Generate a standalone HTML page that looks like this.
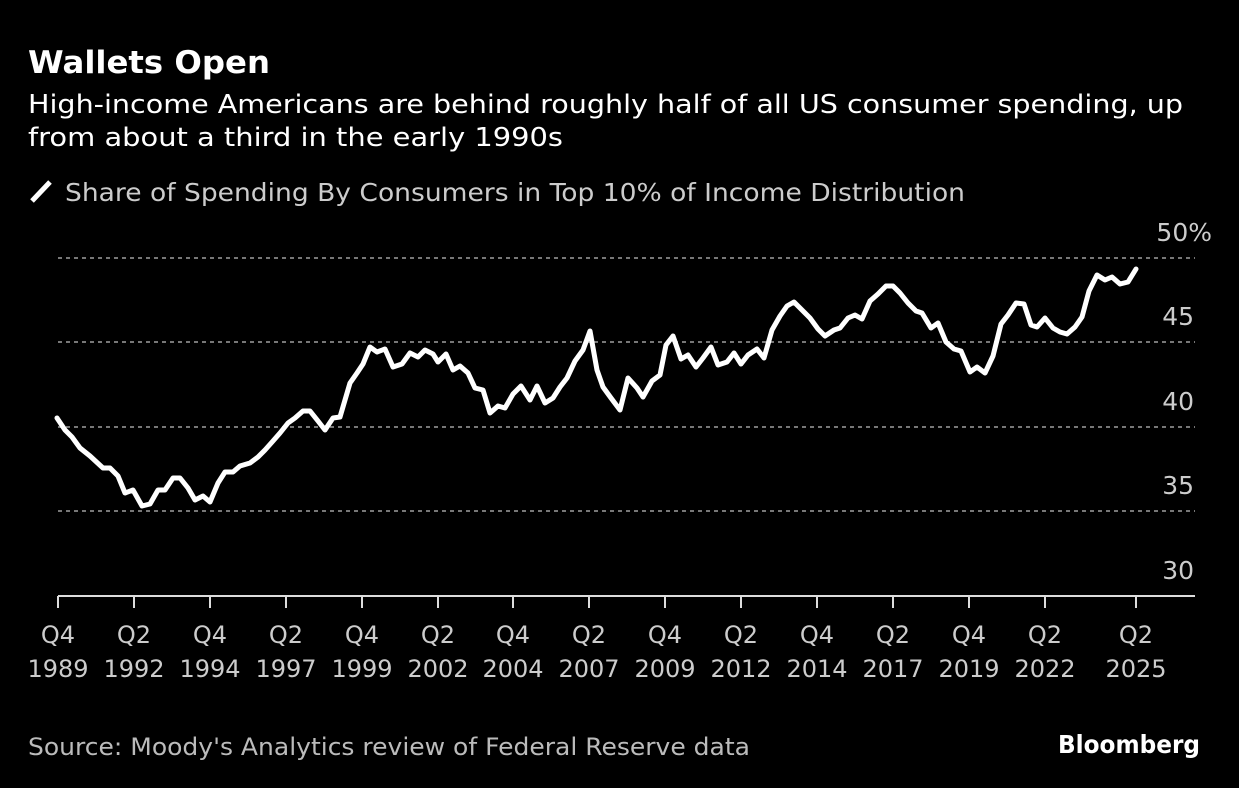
<!DOCTYPE html>
<html><head><meta charset="utf-8"><style>
html,body{margin:0;padding:0;background:#000;}
svg{display:block;font-family:"DejaVu Sans","Liberation Sans",sans-serif;}
</style></head><body>
<svg width="1239" height="788" viewBox="0 0 1239 788" xmlns="http://www.w3.org/2000/svg">
<rect width="1239" height="788" fill="#000"/>
<text x="28" y="73" font-size="31" font-weight="bold" fill="#fff" textLength="242" lengthAdjust="spacingAndGlyphs">Wallets Open</text>
<text x="28" y="113" font-size="26" fill="#fff" textLength="1155" lengthAdjust="spacingAndGlyphs">High-income Americans are behind roughly half of all US consumer spending, up</text>
<text x="28" y="146" font-size="26" fill="#fff" textLength="535" lengthAdjust="spacingAndGlyphs">from about a third in the early 1990s</text>
<line x1="32" y1="201" x2="50" y2="182" stroke="#fff" stroke-width="5"/>
<text x="65" y="201" font-size="25" fill="#ccc" textLength="900" lengthAdjust="spacingAndGlyphs">Share of Spending By Consumers in Top 10% of Income Distribution</text>
<g stroke="#777" stroke-width="2" stroke-dasharray="4,4">
<line x1="58" y1="258" x2="1195" y2="258"/>
<line x1="58" y1="342" x2="1195" y2="342"/>
<line x1="58" y1="427" x2="1195" y2="427"/>
<line x1="58" y1="511" x2="1195" y2="511"/>
</g>
<line x1="58" y1="596" x2="1195" y2="596" stroke="#ddd" stroke-width="2"/>
<g font-size="25" fill="#ccc" text-anchor="end">
<text x="1212" y="241">50%</text>
<text x="1194" y="325">45</text>
<text x="1194" y="410">40</text>
<text x="1194" y="494">35</text>
<text x="1194" y="579">30</text>
</g>
<g stroke="#ddd" stroke-width="2">
<line x1="58" y1="596" x2="58" y2="608"/><line x1="134" y1="596" x2="134" y2="608"/><line x1="210" y1="596" x2="210" y2="608"/><line x1="286" y1="596" x2="286" y2="608"/><line x1="362" y1="596" x2="362" y2="608"/><line x1="438" y1="596" x2="438" y2="608"/><line x1="513" y1="596" x2="513" y2="608"/><line x1="589" y1="596" x2="589" y2="608"/><line x1="665" y1="596" x2="665" y2="608"/><line x1="741" y1="596" x2="741" y2="608"/><line x1="817" y1="596" x2="817" y2="608"/><line x1="893" y1="596" x2="893" y2="608"/><line x1="969" y1="596" x2="969" y2="608"/><line x1="1045" y1="596" x2="1045" y2="608"/><line x1="1136" y1="596" x2="1136" y2="608"/>
</g>
<g font-size="24" fill="#ccc" text-anchor="middle">
<text x="58" y="643">Q4</text><text x="58" y="677">1989</text>
<text x="134" y="643">Q2</text><text x="134" y="677">1992</text>
<text x="210" y="643">Q4</text><text x="210" y="677">1994</text>
<text x="286" y="643">Q2</text><text x="286" y="677">1997</text>
<text x="362" y="643">Q4</text><text x="362" y="677">1999</text>
<text x="438" y="643">Q2</text><text x="438" y="677">2002</text>
<text x="513" y="643">Q4</text><text x="513" y="677">2004</text>
<text x="589" y="643">Q2</text><text x="589" y="677">2007</text>
<text x="665" y="643">Q4</text><text x="665" y="677">2009</text>
<text x="741" y="643">Q2</text><text x="741" y="677">2012</text>
<text x="817" y="643">Q4</text><text x="817" y="677">2014</text>
<text x="893" y="643">Q2</text><text x="893" y="677">2017</text>
<text x="969" y="643">Q4</text><text x="969" y="677">2019</text>
<text x="1045" y="643">Q2</text><text x="1045" y="677">2022</text>
<text x="1136" y="643">Q2</text><text x="1136" y="677">2025</text>
</g>
<polyline fill="none" stroke="#fff" stroke-width="5" stroke-linejoin="round" stroke-linecap="round" points="57,418 65,430 72,437 80,448 90,456 103,468 110,468 118,476 125,493 133,490 142,506 150,504 158,490 165,490 173,478 180,478 188,488 195,500 203,496 210,502 218,483 225,472 233,472 240,466 250,463 258,457 265,450 273,441 280,433 288,423 295,418 303,411 310,411 318,421 325,430 333,418 340,417 350,383 357,373 363,364 370,347 377,352 385,349 393,367 402,364 410,353 418,357 425,350 433,354 438,362 446,354 453,370 460,366 468,373 475,388 483,390 490,413 498,406 505,408 513,394 521,386 530,400 537,386 545,403 553,398 560,387 567,378 575,361 583,350 590,331 597,370 603,387 611,398 620,410 628,378 637,388 643,397 652,381 660,375 666,345 673,336 681,359 688,355 696,367 703,358 711,347 718,365 727,362 734,353 741,364 748,355 757,349 764,358 772,330 780,316 787,306 794,302 803,311 810,318 818,329 825,336 834,330 840,328 848,318 855,315 862,319 870,301 878,294 886,286 893,286 900,293 908,303 916,311 922,313 931,328 938,323 946,342 954,349 961,351 970,372 977,367 985,373 993,356 1001,324 1008,315 1016,303 1024,304 1031,325 1037,327 1045,318 1053,328 1060,332 1067,334 1075,327 1082,317 1089,291 1097,275 1105,280 1112,277 1120,284 1128,282 1136,269"/>
<text x="28" y="755" font-size="24" fill="#bbb" textLength="722" lengthAdjust="spacingAndGlyphs">Source: Moody's Analytics review of Federal Reserve data</text>
<text x="1200" y="753" font-size="25" font-weight="bold" fill="#fff" text-anchor="end" textLength="142" lengthAdjust="spacingAndGlyphs">Bloomberg</text>
</svg>
</body></html>
